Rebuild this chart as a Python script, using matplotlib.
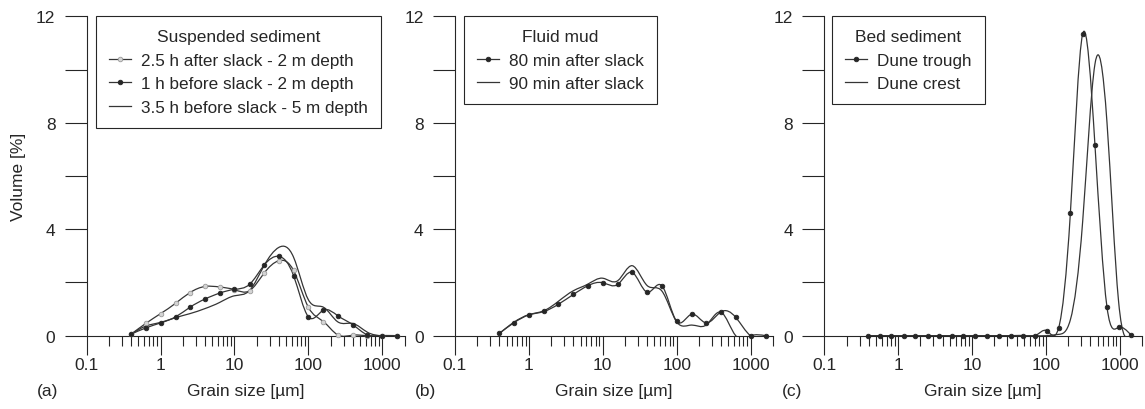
import numpy as np
import matplotlib
matplotlib.use("Agg")
import matplotlib.pyplot as plt
from matplotlib.path import Path
from matplotlib.patches import PathPatch
from matplotlib.lines import Line2D
from matplotlib.ticker import LogLocator, NullFormatter

plt.rcParams['font.family'] = ['Liberation Sans', 'DejaVu Sans']
plt.rcParams['font.size'] = 12.5

# grain sizes [um] of the sample bins
size_ab = [0.4, 0.63, 1, 1.6, 2.5, 4, 6.3, 10, 16, 25, 40, 63, 100, 160, 250, 400, 630, 1000, 1600]
size_c = [0.39, 0.56, 0.81, 1.2, 1.7, 2.5, 3.6, 5.3, 7.6, 11, 16, 23, 34, 49, 72,
          102, 148, 214, 314, 460, 670, 960, 1400]

# (a) suspended sediment, volume [%]
susp_after_25h = [0.06, 0.46, 0.83, 1.22, 1.62, 1.85, 1.83, 1.73, 1.69, 2.34, 2.82, 2.45,
                  1.07, 0.53, 0.03, 0.02, 0, 0, 0]
susp_before_1h = [0.06, 0.29, 0.48, 0.71, 1.07, 1.38, 1.60, 1.74, 1.93, 2.64, 2.98, 2.26,
                  0.71, 0.96, 0.75, 0.41, 0.03, 0, 0]
susp_before_35h = [0.06, 0.36, 0.5, 0.68, 0.83, 1.02, 1.25, 1.5, 1.7, 2.62, 3.32, 2.95,
                   1.35, 1.07, 0.52, 0.46, 0.13, 0, 0]

# (b) fluid mud
mud_80min = [0.09, 0.49, 0.78, 0.91, 1.18, 1.55, 1.88, 1.99, 1.93, 2.38, 1.63, 1.88,
             0.54, 0.81, 0.48, 0.90, 0.69, 0, 0]
mud_90min = [0.09, 0.51, 0.79, 0.94, 1.29, 1.69, 1.94, 2.16, 2.07, 2.63, 1.88, 1.68,
             0.52, 0.40, 0.40, 0.88, 0.0, 0, 0]

# (c) bed sediment
dune_trough = [0] * 15 + [0.19, 0.28, 4.61, 11.34, 7.17, 1.07, 0.31, 0.04]
dune_crest = [0] * 15 + [0, 0.05, 0.6, 4.3, 10.2, 8.0, 1.3, 0]

xticks = [0.1, 1, 10, 100, 1000]
xticklabels = ['0.1', '1', '10', '100', '1000']

LINE = '#353535'
INK = '#262626'


def smooth_path(x, y):
    # natural cubic spline through the points (log x), drawn as bezier segments
    t = np.log10(x)
    y = np.asarray(y, dtype=float)
    n = len(t)
    h = np.diff(t)
    A = np.zeros((n, n))
    r = np.zeros(n)
    A[0, 0] = A[-1, -1] = 1
    for i in range(1, n - 1):
        A[i, i - 1] = h[i - 1]
        A[i, i] = 2 * (h[i - 1] + h[i])
        A[i, i + 1] = h[i]
        r[i] = 6 * ((y[i + 1] - y[i]) / h[i] - (y[i] - y[i - 1]) / h[i - 1])
    M = np.linalg.solve(A, r)
    verts = [(x[0], y[0])]
    codes = [Path.MOVETO]
    for i in range(n - 1):
        s = (y[i + 1] - y[i]) / h[i]
        d0 = s - h[i] * (2 * M[i] + M[i + 1]) / 6
        d1 = s + h[i] * (M[i] + 2 * M[i + 1]) / 6
        verts.append((10 ** (t[i] + h[i] / 3), y[i] + d0 * h[i] / 3))
        verts.append((10 ** (t[i + 1] - h[i] / 3), y[i + 1] - d1 * h[i] / 3))
        verts.append((x[i + 1], y[i + 1]))
        codes += [Path.CURVE4] * 3
    return Path(verts, codes)


def draw_series(ax, x, y, marker=None, mfc=INK, mec=INK):
    ax.add_patch(PathPatch(smooth_path(x, y), fill=False, edgecolor=LINE, lw=0.9))
    if marker:
        ax.plot(x, y, linestyle='none', marker=marker, ms=3.3, mfc=mfc, mec=mec,
                mew=0.6, clip_on=False, zorder=3)
    return Line2D([], [], color=LINE, lw=0.9, marker=marker, ms=3.3, mfc=mfc,
                  mec=mec, mew=0.6)


def setup_axes(ax):
    ax.set_xscale('log')
    ax.set_xlim(0.1, 2000)
    ax.set_ylim(0, 12)
    for side in ['top', 'right']:
        ax.spines[side].set_visible(False)
    for side in ['left', 'bottom']:
        ax.spines[side].set_linewidth(0.8)
        ax.spines[side].set_color(INK)
    ax.set_xticks(xticks)
    ax.set_xticklabels(xticklabels)
    ax.xaxis.set_minor_locator(LogLocator(base=10, subs=range(2, 10), numticks=20))
    ax.xaxis.set_minor_formatter(NullFormatter())
    ax.set_yticks([0, 4, 8, 12])
    ax.set_yticks([2, 6, 10], minor=True)
    ax.tick_params(axis='x', which='major', length=14, width=0.8, pad=1, colors=INK)
    ax.tick_params(axis='x', which='minor', length=7, width=0.8, colors=INK)
    ax.tick_params(axis='y', which='both', length=15.5, width=0.8, pad=7, colors=INK)
    ax.set_xlabel('Grain size [µm]', labelpad=8, color=INK)


def add_legend(ax, handles, labels, title, xpos):
    leg = ax.legend(handles, labels, title=title, loc='upper left',
                    bbox_to_anchor=(xpos, 1.0), borderaxespad=0, fancybox=False,
                    framealpha=1, edgecolor=INK, handlelength=1.3,
                    handletextpad=0.6, labelspacing=0.5, borderpad=0.75,
                    fontsize=12.3, title_fontsize=12.5, numpoints=1)
    leg.get_frame().set_linewidth(0.8)
    for txt in leg.get_texts():
        txt.set_color(INK)
    leg.get_title().set_color(INK)


fig = plt.figure(figsize=(11.45, 4.1), dpi=100)
w = 317.8 / 1145
bottom = (410 - 336.7) / 410
height = 319.4 / 410
ax_a = fig.add_axes([86.7 / 1145, bottom, w, height])
ax_b = fig.add_axes([455 / 1145, bottom, w, height])
ax_c = fig.add_axes([824.3 / 1145, bottom, w, height])

# Panel (a)
#----------
setup_axes(ax_a)
h1 = draw_series(ax_a, size_ab, susp_after_25h, 'o', mfc='#d4d4d4', mec='#9a9a9a')
h2 = draw_series(ax_a, size_ab, susp_before_1h, 'o')
h3 = draw_series(ax_a, size_ab, susp_before_35h)
ax_a.set_ylabel('Volume [%]', labelpad=7, color=INK)
add_legend(ax_a, [h1, h2, h3],
           ['2.5 h after slack - 2 m depth', '1 h before slack - 2 m depth',
            '3.5 h before slack - 5 m depth'], 'Suspended sediment', 0.029)

# Panel (b)
#----------
setup_axes(ax_b)
h1 = draw_series(ax_b, size_ab, mud_80min, 'o')
h2 = draw_series(ax_b, size_ab, mud_90min)
add_legend(ax_b, [h1, h2], ['80 min after slack', '90 min after slack'],
           'Fluid mud', 0.028)

# Panel (c)
#----------
setup_axes(ax_c)
h1 = draw_series(ax_c, size_c, dune_trough, 'o')
h2 = draw_series(ax_c, size_c, dune_crest)
add_legend(ax_c, [h1, h2], ['Dune trough', 'Dune crest'], 'Bed sediment', 0.024)

for label, xpix in [('(a)', 48), ('(b)', 426), ('(c)', 792)]:
    fig.text(xpix / 1145, (410 - 392) / 410, label, ha='center', va='center',
             fontsize=12.5, color=INK)

fig.savefig('out.png', dpi=100)
